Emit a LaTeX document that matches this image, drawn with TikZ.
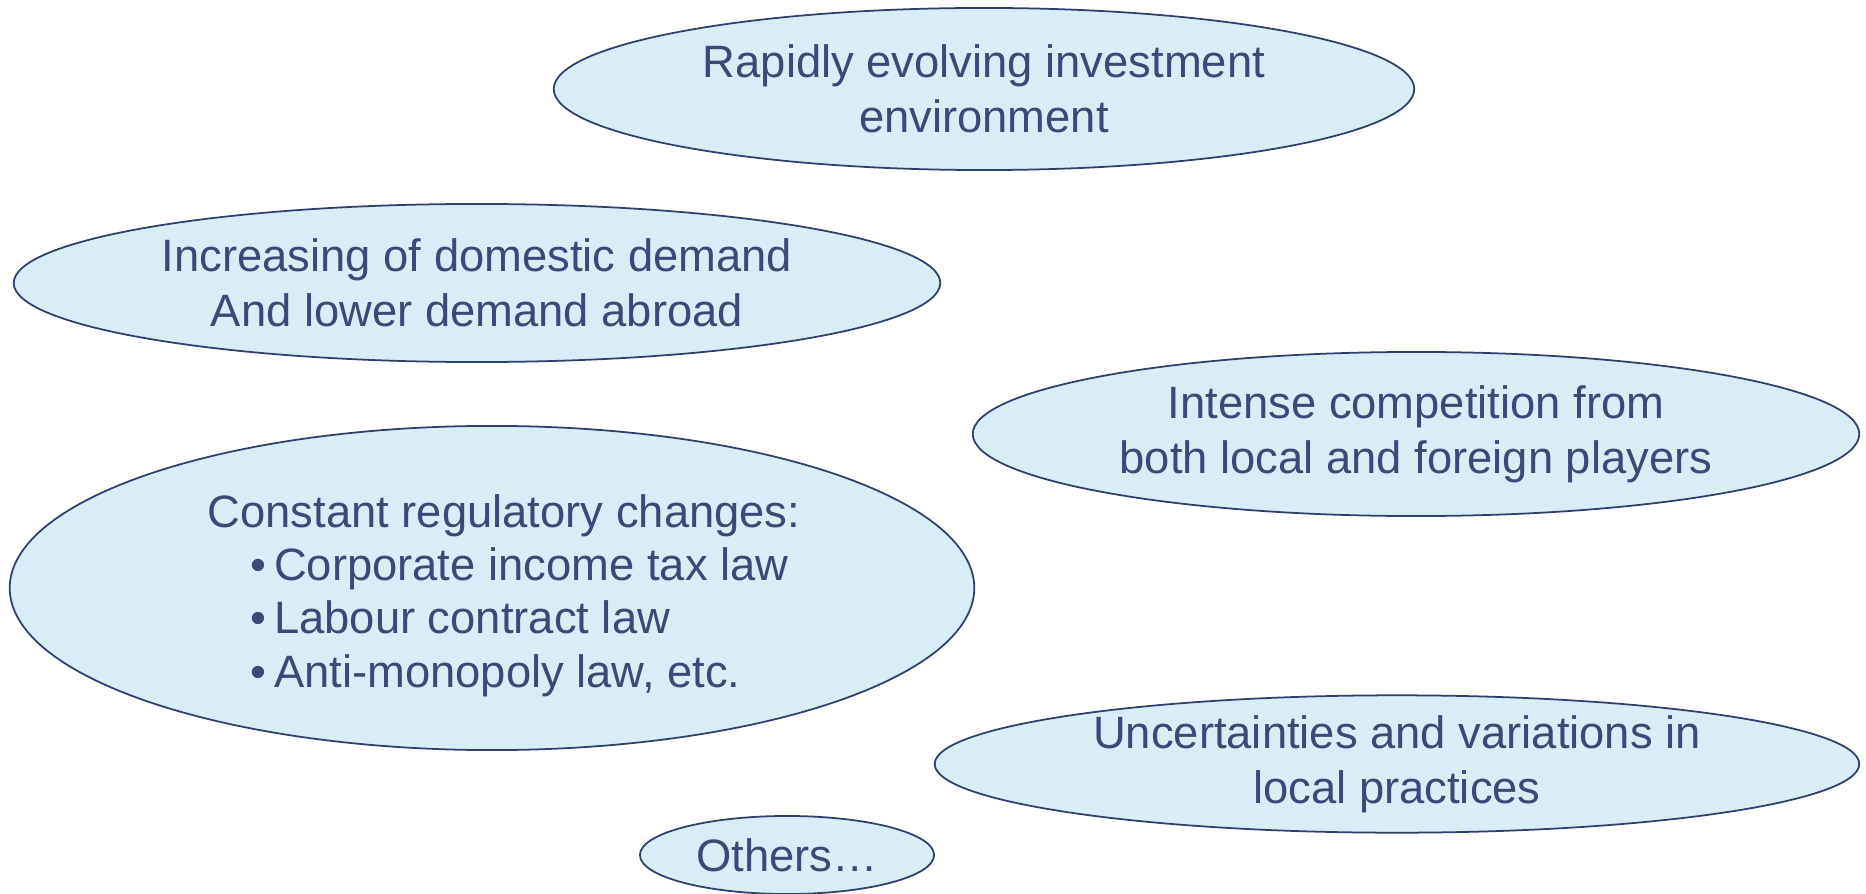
\documentclass[tikz,border=0pt]{standalone}
\usepackage{fontspec}
\setmainfont{Liberation Sans}
\usepackage{tikz}
\usetikzlibrary{shapes.geometric,positioning}
\usepackage{xcolor}
\definecolor{bubblefill}{HTML}{D8EDF6}
\definecolor{bubbleline}{HTML}{2F3F6C}
\definecolor{bubbletext}{HTML}{3A4978}

\begin{document}
\begin{tikzpicture}[
  x=0.01cm,y=-0.01cm,
  every node/.style={font=\fontsize{12.9}{15.6}\selectfont,text=bubbletext},
  bubble/.style={ellipse,draw=bubbleline,fill=bubblefill,line width=0.5pt,inner sep=0pt,align=center}
]
  \useasboundingbox (0,0) rectangle (1866,894);

  % Challenges (one ellipse each)
  \node[bubble,minimum width=8.60cm,minimum height=1.62cm] (invest) at (984,89)
    {Rapidly evolving investment\\environment};
  \node[bubble,minimum width=9.26cm,minimum height=1.58cm] (demand) at (477,283)
    {Increasing of domestic demand\\And lower demand abroad};
  \node[bubble,minimum width=8.86cm,minimum height=1.64cm] (compet) at (1416,434)
    {Intense competition from\\both local and foreign players};
  \node[bubble,minimum width=9.64cm,minimum height=3.24cm,align=left,
        font=\fontsize{12.9}{15.1}\selectfont] (regul) at (492,588)
    {\hspace*{0.24cm}\rule{0pt}{13.7pt}Constant regulatory changes:\\
     \hspace*{0.67cm}\textbullet\,Corporate income tax law\\
     \hspace*{0.67cm}\textbullet\,Labour contract law\\
     \hspace*{0.67cm}\textbullet\,Anti-monopoly law, etc.};
  \node[bubble,minimum width=9.24cm,minimum height=1.34cm] (local) at (1397,764)
    {Uncertainties and variations in\\local practices};
  \node[bubble,minimum width=2.94cm,minimum height=0.78cm] (others) at (787,855)
    {Others\ldots};
\end{tikzpicture}
\end{document}
